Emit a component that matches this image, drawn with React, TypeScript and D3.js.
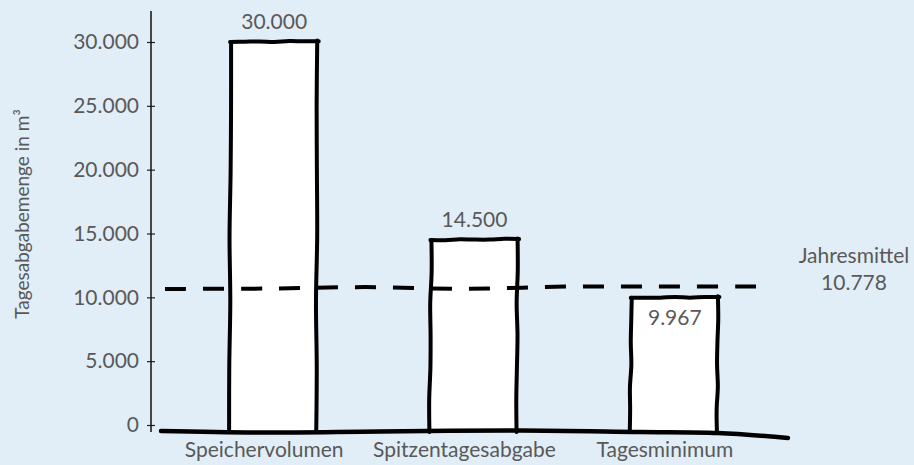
import * as d3 from "d3";
import { useEffect, useRef } from "react";

// chart data
const categories = ["Speichervolumen", "Spitzentagesabgabe", "Tagesminimum"];
const values = [30000, 14500, 9967];
const meanValue = 10778;
const meanLabel = "Jahresmittel";
const yTicks = [0, 5000, 10000, 15000, 20000, 25000, 30000];
const yTitle = "Tagesabgabemenge in m³";

const de = d3.formatLocale({
  decimal: ",",
  thousands: ".",
  grouping: [3],
  currency: ["", " €"],
});
const fmt = de.format(",");

// wobbly hand drawn segment, deterministic
const sketch = (x1: number, y1: number, x2: number, y2: number, seed: number, amp = 1.2) => {
  const n = 6;
  const pts: [number, number][] = [];
  const dx = x2 - x1, dy = y2 - y1;
  const len = Math.hypot(dx, dy) || 1;
  const nx = -dy / len, ny = dx / len;
  for (let i = 0; i <= n; i++) {
    const t = i / n;
    const off = i === 0 || i === n ? 0 : Math.sin(seed * 3.7 + i * 2.3) * amp;
    pts.push([x1 + dx * t + nx * off, y1 + dy * t + ny * off]);
  }
  return d3.line().curve(d3.curveCatmullRom)(pts) as string;
};

const App = () => {
  const ref = useRef<SVGSVGElement>(null);

  useEffect(() => {
    const width = 914, height = 465;
    const font = "Lato, 'Open Sans', sans-serif";
    const textColor = "#595959";

    const svg = d3.select(ref.current);
    svg.selectAll("*").remove();
    svg.attr("width", width).attr("height", height);

    svg.append("rect").attr("width", width).attr("height", height).attr("fill", "#e1eef7");

    const y = d3.scaleLinear().domain([0, 30000]).range([425, 42]);
    const x = d3
      .scaleBand()
      .domain(categories)
      .range([174, 775])
      .paddingInner(0.57)
      .paddingOuter(0.285);

    const axisX = 151;

    // Y axis
    const yAxis = svg
      .append("g")
      .attr("transform", `translate(${axisX},0)`)
      .call(d3.axisLeft(y).tickValues(yTicks).tickFormat((d) => fmt(d as number)).tickSize(4).tickPadding(8));
    yAxis.select(".domain").remove();
    yAxis.selectAll(".tick line").attr("x1", -4).attr("x2", 4).attr("stroke", "#222").attr("stroke-width", 1.2);
    yAxis
      .selectAll(".tick text")
      .attr("font-family", font)
      .attr("font-size", 21)
      .attr("fill", textColor);
    svg
      .append("line")
      .attr("x1", axisX)
      .attr("x2", axisX)
      .attr("y1", 11)
      .attr("y2", 432)
      .attr("stroke", "#111")
      .attr("stroke-width", 1.5);

    svg
      .append("text")
      .attr("transform", `translate(29,214) rotate(-90)`)
      .attr("text-anchor", "middle")
      .attr("font-family", font)
      .attr("font-size", 19)
      .attr("fill", textColor)
      .text(yTitle);

    // bars
    const bars = svg.append("g");
    categories.forEach((c, i) => {
      const x0 = x(c) as number;
      const x1 = x0 + x.bandwidth();
      const yTop = y(values[i]);
      const yBot = y(0) + 7;
      bars
        .append("rect")
        .attr("x", x0)
        .attr("y", yTop)
        .attr("width", x.bandwidth())
        .attr("height", yBot - yTop)
        .attr("fill", "#ffffff");
      const outline = [
        sketch(x0 - 2, yBot, x0, yTop, i * 3 + 1, 0.6),
        sketch(x0 - 1, yTop, x1 + 1.5, yTop - 0.8, i * 3 + 2, 0.5),
        sketch(x1, yTop - 1.5, x1 - 1, yBot, i * 3 + 3, 0.6),
      ];
      outline.forEach((d) =>
        bars
          .append("path")
          .attr("d", d)
          .attr("fill", "none")
          .attr("stroke", "#000")
          .attr("stroke-width", 4)
          .attr("stroke-linecap", "round")
      );

      const inside = values[i] < meanValue;
      bars
        .append("text")
        .attr("x", x0 + x.bandwidth() / 2)
        .attr("y", inside ? yTop + 27 : yTop - 13)
        .attr("text-anchor", "middle")
        .attr("font-family", font)
        .attr("font-size", 21)
        .attr("fill", textColor)
        .text(fmt(values[i]));

      // category labels sit a little left of the hand drawn bars
      svg
        .append("text")
        .attr("x", x0 + x.bandwidth() / 2 - 10)
        .attr("y", 457)
        .attr("text-anchor", "middle")
        .attr("font-family", font)
        .attr("font-size", 21)
        .attr("fill", textColor)
        .text(c);
    });

    // hand drawn baseline
    const base = y(0) + 7;
    const lastEnd = (x(categories[2]) as number) + x.bandwidth();
    const basePts: [number, number][] = [
      [axisX + 10, base - 1],
      [260, base + 0.5],
      [380, base - 0.5],
      [520, base - 1.5],
      [640, base],
      [lastEnd, base + 1],
      [lastEnd + 70, base + 6],
    ];
    svg
      .append("path")
      .attr("d", d3.line().curve(d3.curveCatmullRom)(basePts) as string)
      .attr("fill", "none")
      .attr("stroke", "#000")
      .attr("stroke-width", 4.5)
      .attr("stroke-linecap", "round");

    // mean line
    const ym = y(meanValue);
    svg
      .append("path")
      .attr("d", sketch(165, ym + 1.5, 766, ym - 1, 7, 1.2))
      .attr("fill", "none")
      .attr("stroke", "#000")
      .attr("stroke-width", 4)
      .attr("stroke-dasharray", "21 17");

    const mt = svg
      .append("text")
      .attr("text-anchor", "middle")
      .attr("font-family", font)
      .attr("font-size", 21)
      .attr("fill", textColor);
    mt.append("tspan").attr("x", 854).attr("y", ym - 24).text(meanLabel);
    mt.append("tspan").attr("x", 854).attr("y", ym + 3).text(fmt(meanValue));
  }, []);

  return (
    <svg
      ref={ref}
      width={914}
      height={465}
      style={{ position: "fixed", left: 0, top: 0, display: "block" }}
    />
  );
};

export default App;
